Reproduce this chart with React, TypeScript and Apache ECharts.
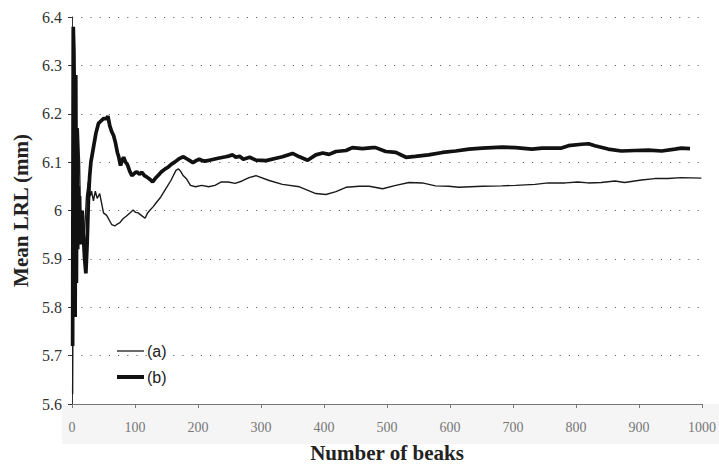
import React, { useEffect, useRef } from "react";
import * as echarts from "echarts";

// (a) thin line: number of beaks, mean LRL (mm)
const beaksA = [1, 2, 3, 4, 5, 6, 8, 10, 12, 14, 16, 18, 20, 23, 26, 29, 31, 34, 37, 40, 42, 44, 50, 55, 63, 68, 72, 76, 81, 86, 92, 97, 101, 105, 110, 116, 120, 124, 129, 133, 141, 149, 157, 165, 169, 173, 176, 182, 188, 196, 206, 217, 227, 237, 248, 259, 270, 281, 292, 313, 334, 361, 387, 403, 419, 435, 456, 472, 493, 514, 535, 556, 577, 598, 614, 651, 682, 704, 735, 756, 783, 803, 819, 840, 862, 877, 904, 925, 946, 967, 999];
const lrlA = [5.62, 5.95, 6.05, 5.9, 6.0, 5.93, 5.98, 6.17, 6.1, 5.94, 5.98, 5.93, 5.96, 6.03, 6.06, 6.03, 6.04, 6.02, 6.04, 6.025, 6.03, 6.035, 5.995, 5.99, 5.971, 5.968, 5.972, 5.975, 5.983, 5.988, 5.995, 6.001, 5.996, 5.995, 5.99, 5.984, 5.995, 6.001, 6.008, 6.015, 6.028, 6.045, 6.062, 6.083, 6.086, 6.08, 6.073, 6.065, 6.052, 6.049, 6.052, 6.049, 6.052, 6.059, 6.059, 6.056, 6.061, 6.068, 6.072, 6.062, 6.054, 6.049, 6.035, 6.033, 6.039, 6.048, 6.05, 6.05, 6.045, 6.052, 6.058, 6.057, 6.051, 6.05, 6.048, 6.05, 6.051, 6.052, 6.054, 6.057, 6.057, 6.059, 6.057, 6.058, 6.061, 6.058, 6.063, 6.066, 6.066, 6.068, 6.067];

// (b) thick line
const beaksB = [1, 2, 3, 4, 5, 6, 7, 8, 9, 10, 11, 12, 13, 14, 16, 18, 20, 22, 24, 26, 28, 30, 34, 38, 42, 46, 50, 55, 57, 60, 63, 66, 69, 72, 74, 77, 80, 82, 85, 88, 92, 95, 100, 103, 107, 111, 115, 119, 124, 128, 132, 137, 142, 148, 153, 158, 163, 169, 173, 177, 182, 187, 192, 197, 202, 207, 211, 218, 225, 232, 240, 244, 250, 255, 260, 266, 272, 282, 292, 308, 324, 334, 350, 361, 374, 387, 398, 408, 419, 435, 445, 461, 477, 482, 498, 514, 530, 545, 566, 588, 609, 630, 651, 683, 704, 730, 746, 777, 788, 809, 820, 830, 851, 872, 894, 915, 936, 957, 967, 981];
const lrlB = [5.72, 6.38, 6.33, 6.2, 5.78, 6.28, 5.85, 6.17, 5.92, 6.05, 5.94, 6.03, 5.96, 5.93, 6.0, 5.95, 5.9, 5.87, 5.93, 6.02, 6.07, 6.1, 6.13, 6.16, 6.18, 6.185, 6.19, 6.19, 6.195, 6.175, 6.163, 6.155, 6.14, 6.12, 6.112, 6.093, 6.105, 6.11, 6.1, 6.095, 6.08, 6.072, 6.078, 6.08, 6.075, 6.079, 6.072, 6.069, 6.064, 6.059, 6.066, 6.073, 6.08, 6.086, 6.09, 6.096, 6.1, 6.106, 6.109, 6.111, 6.107, 6.103, 6.099, 6.103, 6.106, 6.103, 6.102, 6.104, 6.106, 6.108, 6.11, 6.111, 6.113, 6.115, 6.11, 6.112, 6.106, 6.11, 6.104, 6.103, 6.108, 6.111, 6.118, 6.111, 6.104, 6.115, 6.119, 6.116, 6.122, 6.124, 6.13, 6.128, 6.13, 6.13, 6.122, 6.12, 6.11, 6.112, 6.115, 6.12, 6.123, 6.127, 6.129, 6.131, 6.13, 6.127, 6.129, 6.129, 6.134, 6.137, 6.138, 6.134, 6.127, 6.123, 6.124, 6.125, 6.123, 6.127, 6.129, 6.128];

const seriesNames = ["(a)", "(b)"];
const xTitle = "Number of beaks";
const yTitle = "Mean LRL (mm)";

const zip = (xs: number[], ys: number[]) => xs.map((x, i) => [x, ys[i]]);

export default function App() {
  const ref = useRef<HTMLDivElement>(null);
  useEffect(() => {
    if (!ref.current) return;
    const chart = echarts.init(ref.current, undefined, { renderer: "svg" });
    const serif = "'Liberation Serif', 'Times New Roman', serif";
    const sans = "'Liberation Sans', Arial, sans-serif";
    const legendCommon = {
      left: 112,
      orient: "vertical",
      icon: "rect",
      itemWidth: 27,
      textStyle: { fontFamily: sans, fontSize: 16, color: "#222", padding: [0, 0, 0, -2] },
    };
    chart.setOption({
      animation: false,
      backgroundColor: "#fff",
      grid: { left: 72, right: 15, top: 17, bottom: 57, containLabel: false },
      graphic: [
        { type: "rect", shape: { x: 62, y: 404, width: 657, height: 40 }, style: { fill: "#f5f5f5" }, z: -10, silent: true },
      ],
      legend: [
        { ...legendCommon, top: 338, itemHeight: 1.3, data: [seriesNames[0]] },
        { ...legendCommon, top: 364, itemHeight: 4, data: [seriesNames[1]] },
      ],
      xAxis: {
        type: "value",
        min: 0,
        max: 1000,
        interval: 100,
        name: xTitle,
        nameLocation: "middle",
        nameGap: 38,
        nameTextStyle: { fontFamily: serif, fontWeight: "bold", fontSize: 21, color: "#222" },
        axisLine: { show: true, lineStyle: { color: "#777", width: 1 } },
        axisTick: { show: true, length: 4, lineStyle: { color: "#777" } },
        axisLabel: { fontFamily: serif, fontSize: 14, color: "#777", margin: 16, formatter: (v: number) => String(v) },
        splitLine: { show: false },
      },
      yAxis: {
        type: "value",
        min: 5.6,
        max: 6.4,
        interval: 0.1,
        name: yTitle,
        nameLocation: "middle",
        nameGap: 36,
        nameTextStyle: { fontFamily: serif, fontWeight: "bold", fontSize: 21, color: "#222" },
        axisLine: { show: true, lineStyle: { color: "#333", width: 1 } },
        axisTick: { show: true, length: 4, lineStyle: { color: "#333" } },
        axisLabel: {
          fontFamily: serif,
          fontSize: 16,
          color: "#333",
          margin: 10,
          formatter: (v: number) => String(parseFloat(v.toFixed(1))),
        },
        splitLine: { show: true, lineStyle: { color: "#666", width: 1, type: [1.2, 8] as any } },
      },
      series: [
        {
          name: seriesNames[0],
          type: "line",
          data: zip(beaksA, lrlA),
          symbol: "none",
          lineStyle: { color: "#1a1a1a", width: 1.4 },
          itemStyle: { color: "#1a1a1a" },
          z: 3,
        },
        {
          name: seriesNames[1],
          type: "line",
          data: zip(beaksB, lrlB),
          symbol: "none",
          lineStyle: { color: "#111", width: 3.7 },
          itemStyle: { color: "#111" },
          z: 4,
        },
      ],
    });
    return () => chart.dispose();
  }, []);
  return <div ref={ref} style={{ width: 719, height: 468, position: "absolute", left: 0, top: 0 }} />;
}
